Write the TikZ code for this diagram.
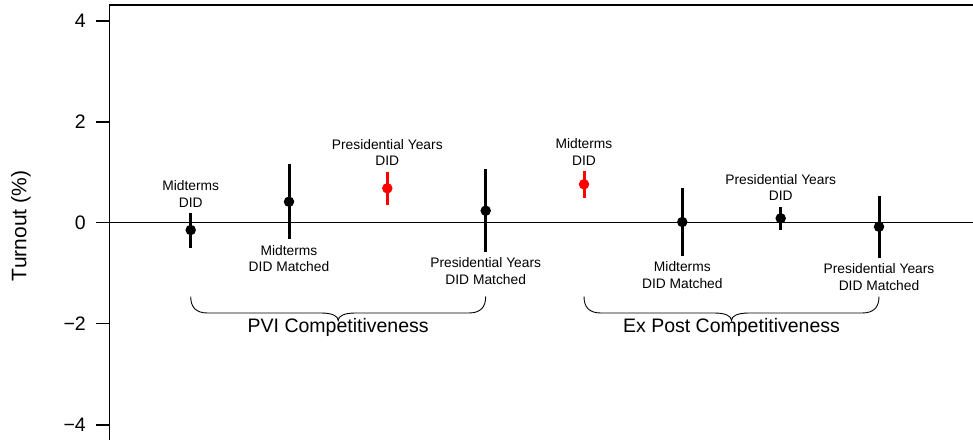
\documentclass[tikz,border=0pt]{standalone}
\usepackage{fontspec}
\setmainfont{Liberation Sans}
\begin{document}
\begin{tikzpicture}[x=1pt,y=-1pt,
  ci/.style={line width=3pt},
  pt/.style={circle,inner sep=0pt,minimum size=10.5pt},
  lab/.style={align=center,font=\fontsize{13.8}{16.6}\selectfont,inner sep=0pt},
  big/.style={font=\fontsize{19.5}{22}\selectfont,inner sep=0pt},
  axisline/.style={line width=1.4pt}]
\useasboundingbox (0,0) rectangle (973,440);
\fill[white] (0,0) rectangle (973,440);
% frame
\draw[axisline] (973,5) -- (109.3,5) -- (109.3,440);
% zero line
\draw[line width=1.1pt] (109.3,222.7) -- (973,222.7);
% ticks
\foreach \yy/\tl in {21/4,122/2,222.7/0,323.7/{−2},425/{−4}}{
  \draw[line width=1.1pt] (96,\yy) -- (109.3,\yy);
  \node[big,anchor=east] at (86,\yy) {\tl};
}
\node[rotate=90,font=\fontsize{21}{24}\selectfont,inner sep=0pt] (ylab) at (21,226) {Turnout (\%)};
% estimates
\foreach \xx/\pp/\lo/\hi/\cc in {190.7/230/213.3/248.3/black, 289/201.7/164/239.3/black,
  387.3/188.3/171.7/205/red, 485.7/210.7/169.3/251.7/black,
  584/184.3/170.7/198.3/red, 682.3/222/188.3/255.7/black,
  780.7/218.3/207.3/230/black, 879/226.7/195.7/258.3/black}{
  \draw[ci,\cc] (\xx,\lo) -- (\xx,\hi);
  \node[pt,fill=\cc] at (\xx,\pp) {};
}
% labels
\node[lab] (l1) at (190.7,194) {Midterms\\DID};
\node[lab] (l2) at (289,258.7) {Midterms\\DID Matched};
\node[lab] (l3) at (387.3,152.5) {Presidential Years\\DID};
\node[lab] (l4) at (485.7,271.3) {Presidential Years\\DID Matched};
\node[lab] (l5) at (584,151.7) {Midterms\\DID};
\node[lab] (l6) at (682.3,275) {Midterms\\DID Matched};
\node[lab] (l7) at (780.7,187.5) {Presidential Years\\DID};
\node[lab] (l8) at (879,277) {Presidential Years\\DID Matched};
% braces
\foreach \a/\b in {190.7/485.7, 584/879}{
  \pgfmathsetmacro{\m}{(\a+\b)/2}
  \draw[line width=0.9pt] (\a,296.5) .. controls (\a,307) and (\a+5,313) .. (\a+17,313)
    -- (\m-17,313) .. controls (\m-6,313) and (\m,316) .. (\m,320.5)
    .. controls (\m,316) and (\m+6,313) .. (\m+17,313)
    -- (\b-17,313) .. controls (\b-5,313) and (\b,307) .. (\b,296.5);
}
\node[big] (b1) at (338.2,327.5) {PVI Competitiveness};
\node[big] (b2) at (731.5,327.5) {Ex Post Competitiveness};
\end{tikzpicture}
\end{document}
